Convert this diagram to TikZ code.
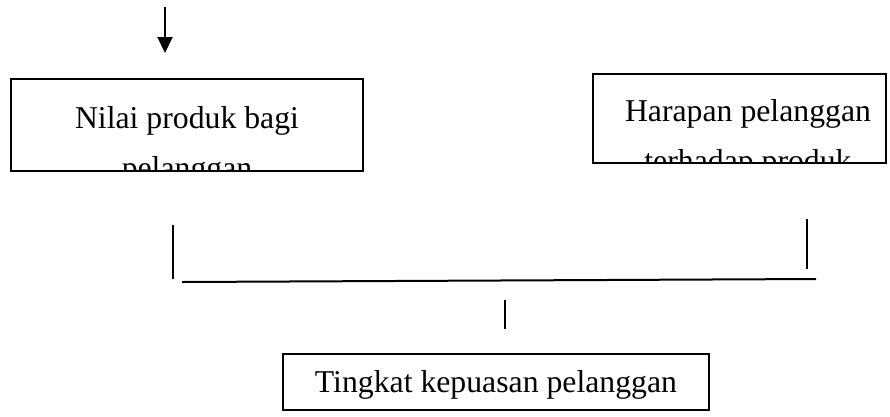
\documentclass[tikz,border=0pt]{standalone}
\usepackage{fontspec}
\setmainfont{Liberation Serif}
\usetikzlibrary{arrows.meta}

\begin{document}
\begin{tikzpicture}[x=1pt,y=-1pt]
	\useasboundingbox (0,0) rectangle (890,416);
	\begin{scope}[kotak/.style={draw, rectangle, line width=1.3pt, inner sep=0},
		teks/.style={inner sep=0, anchor=base, font=\fontsize{31.75}{50}\selectfont},
		garis/.style={line width=2pt}]
	\node[kotak, minimum width=352pt, minimum height=92pt] (nilai) at (187,125) {};
	\node[kotak, minimum width=293pt, minimum height=89pt] (harapan) at (739.5,118.5) {};
	\node[kotak, minimum width=426pt, minimum height=56pt] (tingkat) at (496,382) {};
	
	\begin{scope}
	\clip (nilai.south west) rectangle (nilai.north east);
	\node[teks] (nilai1) at (187,128) {Nilai produk bagi};
	\node[teks] (nilai2) at (187,178) {pelanggan};
	\end{scope}
	\begin{scope}
	\clip (harapan.south west) rectangle (harapan.north east);
	\node[teks] (harapan1) at (748,121) {Harapan pelanggan};
	\node[teks] (harapan2) at (748,171) {terhadap produk};
	\end{scope}
	\node[teks] (tingkat1) at (496,392) {Tingkat kepuasan pelanggan};
	
	\coordinate (a1) at (165,7);
	\coordinate (a2) at (165,53);
	\coordinate (k1) at (173,225);
	\coordinate (k2) at (173,279);
	\coordinate (r1) at (807,219);
	\coordinate (r2) at (807,269);
	\coordinate (h1) at (182,282);
	\coordinate (h2) at (816,279);
	\coordinate (m1) at (505,300);
	\coordinate (m2) at (505,329);
	
	\draw[garis, -{Triangle[width=15pt, length=16pt]}] (a1) -- (a2);
	\draw[garis] (k1) -- (k2);
	\draw[garis] (r1) -- (r2);
	\draw[garis] (h1) -- (h2);
	\draw[garis] (m1) -- (m2);
	\end{scope}
\end{tikzpicture}
\end{document}
